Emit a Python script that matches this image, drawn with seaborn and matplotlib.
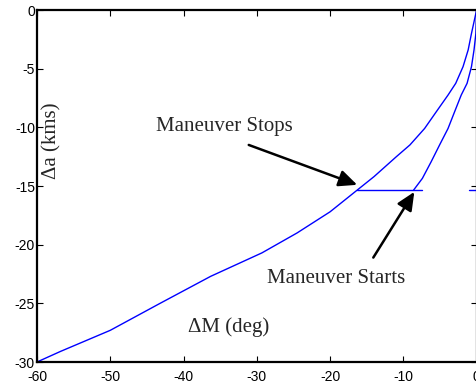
import matplotlib
matplotlib.use("Agg")
import matplotlib.pyplot as plt
import seaborn as sns
import pandas as pd

# Data
drift_before_x = [-60, -56.8, -50, -43.2, -36.3, -29.3, -24.5, -20.0, -16.3,
                  -14.0, -10.95, -9.1, -7.1, -5.5, -3.9, -2.85, -1.85, -1.15, -0.7, -0.35, 0]
drift_before_y = [-30, -29.1, -27.3, -25.0, -22.7, -20.7, -19.0, -17.2, -15.35,
                  -14.2, -12.5, -11.5, -10.1, -8.67, -7.25, -6.25, -4.83, -3.4, -2.0, -1.0, 0]

maneuver_x = [-16.3, -7.4]
maneuver_y = [-15.35, -15.35]

drift_after_x = [-8.6, -7.4, -6.2, -5.05, -3.9, -3.0, -2.1, -1.3, -0.7, -0.35, -0.1, 0]
drift_after_y = [-15.35, -14.35, -12.93, -11.5, -10.1, -8.67, -7.25, -6.25, -4.83, -3.4, -2.0, 0]

edge_x = [-1.0, 0.2]
edge_y = [-15.35, -15.35]

x_ticks = [-60, -50, -40, -30, -20, -10, 0]
y_ticks = [0, -5, -10, -15, -20, -25, -30]

sns.set_style("ticks")
plt.rcParams['font.family'] = ['Liberation Sans', 'DejaVu Sans']

fig = plt.figure(figsize=(4.76, 3.88), dpi=100)
ax = fig.add_axes([37 / 476, 1 - 362 / 388, (476.6 - 37) / 476, 352 / 388])

blue = (0, 0, 1)
for xs, ys in [(drift_before_x, drift_before_y), (maneuver_x, maneuver_y),
               (drift_after_x, drift_after_y), (edge_x, edge_y)]:
    df = pd.DataFrame({"x": xs, "y": ys})
    sns.lineplot(data=df, x="x", y="y", ax=ax, color=blue, lw=1.0,
                 sort=False, estimator=None)

ax.set_xlim(-60, 0)
ax.set_ylim(-30, 0)
ax.set_xticks(x_ticks)
ax.set_yticks(y_ticks)
ax.set_xticklabels([str(v) for v in x_ticks])
ax.set_yticklabels([str(v) for v in y_ticks])
ax.set_xlabel("")
ax.set_ylabel("")

for s in ax.spines.values():
    s.set_visible(True)
    s.set_linewidth(1.6)
    s.set_color("black")

ax.tick_params(direction="in", length=4, width=0.8, top=True, right=True,
               labelsize=10, colors="black")
ax.tick_params(axis="x", pad=6)
ax.tick_params(axis="y", pad=1.5)

serif = ['Liberation Serif', 'DejaVu Serif']
ax.text(-34.45, -9.97, "Maneuver Stops", family=serif, fontsize=15,
        ha="center", va="center")
ax.text(-19.15, -22.85, "Maneuver Starts", family=serif, fontsize=15,
        ha="center", va="center")
ax.text(-33.9, -27.0, "\u0394M (deg)", family=serif, fontsize=15,
        ha="center", va="center")
ax.text(-57.95, -11.17, "\u0394a (kms)", family=serif, fontsize=15,
        ha="center", va="center", rotation=90)

arrow = dict(arrowstyle="-|>,head_length=1.1,head_width=0.5", color="black",
             lw=1.8, shrinkA=0, shrinkB=0)
ax.annotate("", xy=(-16.3, -14.9), xytext=(-31.1, -11.5), arrowprops=arrow)
ax.annotate("", xy=(-8.5, -15.5), xytext=(-14.1, -21.1), arrowprops=arrow)

fig.savefig("out.png", dpi=100)
